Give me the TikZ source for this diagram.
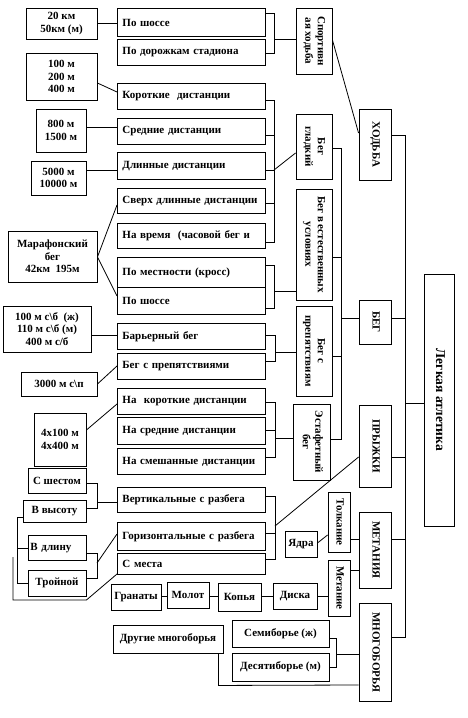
\documentclass[tikz,border=0pt]{standalone}
\usepackage{fontspec}
\usepackage{graphicx}
\setmainfont{Liberation Serif}
\newcommand\myfont{\fontsize{11}{12.5}\selectfont\bfseries}
\newcommand\rt[1]{\rotatebox[origin=c]{-90}{\begin{tabular}{@{}c@{}}#1\end{tabular}}}
\begin{document}
\begin{tikzpicture}[x=1pt,y=-1pt,
  bx/.style={draw, line width=0.9pt, inner sep=0pt, font=\myfont, align=center},
  mbx/.style={bx, anchor=north west, align=left, inner xsep=5pt, text width=138pt, minimum height=#1},
  ln/.style={line width=0.8pt}]
\fill[white] (0,0) rectangle (467,718);
\useasboundingbox (0,0) rectangle (467,718);

% left column
\node[bx, minimum width=71pt, minimum height=31pt] (l1) at (61.5,23.5) {20 км\\50км (м)};
\node[bx, minimum width=71pt, minimum height=47pt] (l2) at (61.5,76.5) {100 м\\200 м\\400 м};
\node[bx, minimum width=50pt, minimum height=43pt] (l3) at (61,130.5) {800 м\\1500 м};
\node[bx, minimum width=55pt, minimum height=34pt] (l4) at (58.5,178) {5000 м\\10000 м};
\node[bx, minimum width=89pt, minimum height=51pt] (l5) at (52.5,256.5) {Марафонский\\бег\\42км\ \ 195м};
\node[bx, minimum width=88pt, minimum height=46pt] (l6) at (47,329) {100 м с\textbackslash б\ \ (ж)\\110 м с\textbackslash б (м)\\400 м с/б};
\node[bx, minimum width=76pt, minimum height=24pt] (l7) at (59,384) {3000 м с\textbackslash п};
\node[bx, minimum width=52pt, minimum height=53pt] (l8) at (60,439.5) {4x100 м\\4x400 м};
\node[bx, minimum width=58pt, minimum height=25pt] (l9) at (57,480.5) {С шестом};
\node[bx, minimum width=63pt, minimum height=22pt] (l10) at (54.5,511) {В высоту};
\node[bx, anchor=north west, align=left, inner xsep=2pt, text width=54pt, minimum height=25pt] (l11) at (28,535) {В длину};
\node[bx, minimum width=58pt, minimum height=26pt] (l12) at (57,583) {Тройной};

% middle column
\node[mbx=28pt] (m1) at (117,8) {\mbox{По шоссе}};
\node[mbx=26pt] (m2) at (117,39) {\mbox{По дорожкам стадиона}};
\node[mbx=26pt] (m3) at (117,83) {\mbox{Короткие\ \ дистанции}};
\node[mbx=26pt] (m4) at (117,118) {\mbox{Средние дистанции}};
\node[mbx=27pt] (m5) at (117,152) {\mbox{Длинные дистанции}};
\node[mbx=25pt] (m6) at (117,188) {\mbox{Сверх длинные дистанции}};
\node[mbx=25pt] (m7) at (117,223) {\mbox{На время\ \ (часовой бег и}};
\node[mbx=30pt] (m8) at (117,257) {\mbox{По местности (кросс)}};
\node[mbx=27pt] (m9) at (117,287) {\mbox{По шоссе}};
\node[mbx=26pt] (m10) at (117,323) {\mbox{Барьерный бег}};
\node[mbx=26pt] (m11) at (117,353) {\mbox{Бег с препятствиями}};
\node[mbx=26pt] (m12) at (117,388) {\mbox{На\ \ короткие дистанции}};
\node[mbx=27pt] (m13) at (117,417) {\mbox{На средние дистанции}};
\node[mbx=26pt] (m14) at (117,448) {\mbox{На смешанные дистанции}};
\node[mbx=25pt] (m15) at (117,487) {\mbox{Вертикальные с разбега}};
\node[mbx=28pt] (m16) at (117,522) {\mbox{Горизонтальные с разбега}};
\node[mbx=21pt] (m17) at (117,553) {\mbox{С места}};

% rotated sub-groups
\node[bx, minimum width=36pt, minimum height=66pt] (r1) at (314,41) {\rt{Спортивн\\ая ходьба}};
\node[bx, minimum width=36pt, minimum height=65pt] (r2) at (314,146.5) {\rt{Бег\\гладкий}};
\node[bx, minimum width=36pt, minimum height=111pt] (r3) at (314,244.5) {\rt{Бег в естественных\\условиях}};
\node[bx, minimum width=36pt, minimum height=90pt] (r4) at (314,351) {\rt{Бег с\\препятствиям}};
\node[bx, minimum width=37pt, minimum height=76pt] (r5) at (311.5,442) {\rt{Эстафетный\\бег}};
\node[bx, minimum width=22pt, minimum height=60pt] (r6) at (339,522) {\rt{Толкание}};
\node[bx, minimum width=22pt, minimum height=56pt] (r7) at (339,588) {\rt{Метание}};

% main groups
\node[bx, minimum width=32pt, minimum height=71pt] (h1) at (375,144.5) {\rt{ХОДЬБА}};
\node[bx, minimum width=32pt, minimum height=44pt] (h2) at (375,322) {\rt{БЕГ}};
\node[bx, minimum width=32pt, minimum height=82pt] (h3) at (375,446) {\rt{ПРЫЖКИ}};
\node[bx, minimum width=32pt, minimum height=76pt] (h4) at (375,550) {\rt{МЕТАНИЯ}};
\node[bx, minimum width=32pt, minimum height=98pt] (h5) at (375,652) {\rt{МНОГОБОРЬЯ}};
\node[bx, minimum width=30pt, minimum height=252pt, font=\fontsize{13.5}{15}\selectfont\bfseries] (la) at (439,400) {\rt{Легкая атлетика}};

% throwing and multi-events
\node[bx, minimum width=32pt, minimum height=26pt] (ya) at (301,544) {Ядра};
\node[bx, minimum width=50pt, minimum height=26pt] (g1) at (136,597) {Гранаты};
\node[bx, minimum width=42pt, minimum height=26pt] (g2) at (188,595) {Молот};
\node[bx, minimum width=43pt, minimum height=28pt] (g3) at (239.5,597) {Копья};
\node[bx, minimum width=44pt, minimum height=26pt] (g4) at (295,596) {Диска};
\node[bx, minimum width=110pt, minimum height=28pt] (dr) at (168,639) {Другие многоборья};
\node[bx, minimum width=97pt, minimum height=27pt] (s7) at (280.5,633.5) {Семиборье (ж)};
\node[bx, minimum width=97pt, minimum height=28pt] (s10) at (280.5,667) {Десятиборье (м)};

% connectors
\draw[ln] (l1.east |- 0,23) -- (m1.west |- 0,23);
\draw[ln] (m1.east |- 0,13) -- (274,13) -- (274,53) -- (m2.east |- 0,53);
\draw[ln] (274,39) -- (r1.west |- 0,39);
\draw[ln] (r1.east |- 0,40) -- (h1.west |- 0,133);
\draw[ln] (h1.east |- 0,135) -- (405,135) -- (405,637) -- (h5.east |- 0,637);
\draw[ln] (405,318) -- (h2.east |- 0,318);
\draw[ln] (405,457) -- (h3.east |- 0,457);
\draw[ln] (405,539) -- (h4.east |- 0,539);
\draw[ln] (405,403) -- (la.west |- 0,403);

\draw[ln] (l2.east |- 0,83) -- (m3.west |- 0,92);
\draw[ln] (l3.east |- 0,127) -- (m4.west |- 0,127);
\draw[ln] (l4.east |- 0,170) -- (m5.west |- 0,170);
\draw[ln] (m3.east |- 0,100) -- (274,100) -- (274,242) -- (m7.east |- 0,242);
\draw[ln] (m4.east |- 0,135) -- (274,135);
\draw[ln] (m5.east |- 0,170) -- (274,170);
\draw[ln] (m6.east |- 0,203) -- (274,203);
\draw[ln] (274,170) -- (r2.west |- 0,153);

\draw[ln] (m8.east |- 0,265) -- (274,265) -- (274,308) -- (m9.east |- 0,308);
\draw[ln] (274,291) -- (r3.west |- 0,291);

\draw[ln] (r2.east |- 0,148) -- (341,148) -- (341,439) -- (r5.east |- 0,439);
\draw[ln] (r3.east |- 0,257) -- (341,257);
\draw[ln] (r4.east |- 0,356) -- (341,356);
\draw[ln] (341,318) -- (h2.west |- 0,318);

\draw[ln] (l5.east |- 0,257) -- (m6.west |- 0,205);
\draw[ln] (l5.east |- 0,257) -- (m9.west |- 0,296);
\draw[ln] (l6.east |- 0,335) -- (m10.west |- 0,335);
\draw[ln] (m10.east |- 0,335) -- (275,335) -- (275,361) -- (m11.east |- 0,361);
\draw[ln] (275,352) -- (r4.west |- 0,352);
\draw[ln] (l7.east |- 0,384) -- (m11.west |- 0,366);
\draw[ln] (l8.east |- 0,430) -- (m12.west |- 0,404);
\draw[ln] (m12.east |- 0,402) -- (275,402) -- (275,457) -- (m14.east |- 0,457);
\draw[ln] (m13.east |- 0,430) -- (275,430);
\draw[ln] (275,438) -- (r5.west |- 0,438);

\draw[ln] (m15.east |- 0,496) -- (275,496) -- (275,559) -- (m17.east |- 0,559);
\draw[ln] (m16.east |- 0,533) -- (275,533);
\draw[ln] (275,526) -- (h3.west |- 0,457);

\draw[ln] (l9.east |- 0,483) -- (97,483) -- (97,508) -- (l10.east |- 0,508);
\draw[ln] (97,502) -- (m15.west |- 0,502);
\draw[ln] (l11.east |- 0,553) -- (97,553) -- (97,578) -- (l12.east |- 0,578);
\draw[ln] (97,563) -- (m16.west |- 0,534);
\draw[ln] (l10.west |- 0,517) -- (17,517) -- (17,583) -- (l12.west |- 0,583);
\draw[ln] (17,548) -- (l11.west |- 0,548);
\coordinate (free) at (13,557);
\draw[ln] (free) -- (13,600) -- (l12.east |- 0,600) -- (m17.west |- 0,574);

\draw[ln] (ya.east |- 0,543) -- (r6.west |- 0,535);
\draw[ln] (r6.east |- 0,539) -- (h4.west |- 0,539);
\draw[ln] (r7.east |- 0,570) -- (h4.west |- 0,570);
\draw[ln] (g4.east |- 0,596) -- (r7.west |- 0,596);
\draw[ln] (g3.east |- 0,596) -- (g4.west |- 0,596);
\draw[ln] (g2.east |- 0,596) -- (g3.west |- 0,596);
\draw[ln] (g1.east |- 0,596) -- (g2.west |- 0,596);

\draw[ln] (s7.east |- 0,638) -- (336,638) -- (336,667) -- (s10.east |- 0,667);
\draw[ln] (336,654) -- (h5.west |- 0,654);
\draw[ln] ([xshift=-5pt]dr.south east) -- ++(0,32) -- (h5.west |- 0,685);
\end{tikzpicture}
\end{document}
